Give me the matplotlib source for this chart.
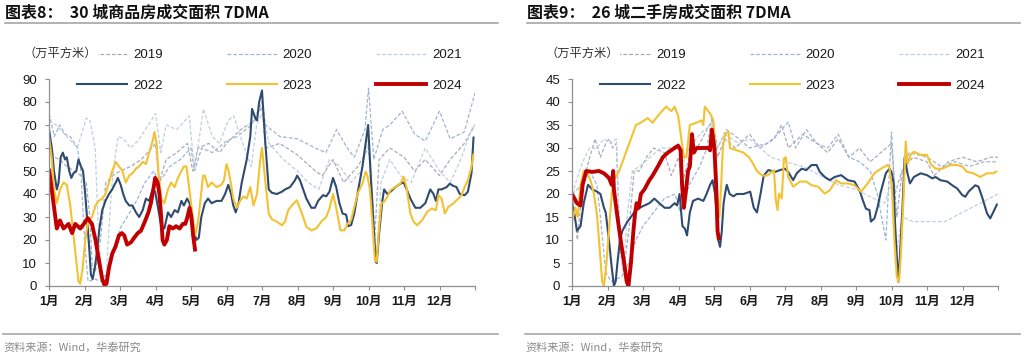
import matplotlib
matplotlib.use("Agg")
import matplotlib.pyplot as plt
from matplotlib.lines import Line2D

plt.rcParams['font.family'] = ['Liberation Sans', 'Noto Sans CJK SC', 'DejaVu Sans']

# ---------------- data (x = month position, 0 = 1 Jan, 12 = 31 Dec) ----------------
months = ['1月', '2月', '3月', '4月', '5月', '6月', '7月', '8月', '9月', '10月', '11月', '12月']
years = ['2019', '2020', '2021', '2022', '2023', '2024']

# Chart 8: 30 cities new home sales area 7DMA (万平方米)
L2019 = [(0,60),(0.15,56),(0.3,55),(0.5,52),(0.7,50),(0.9,48),(1.05,45),(1.15,30),(1.22,8),(1.3,6),(1.45,20),(1.6,45),(1.8,48),(2.0,50),(2.3,52),(2.6,55),(2.9,60),(3.0,62),(3.1,45),(3.3,55),(3.6,58),(3.9,62),(4.05,50),(4.2,60),(4.5,62),(4.8,58),(5.0,62),(5.4,68),(5.8,72),(6.0,78),(6.1,60),(6.5,62),(7.0,57),(7.5,50),(7.7,48),(8.0,55),(8.3,45),(8.7,52),(9.0,60),(9.1,40),(9.17,20),(9.3,55),(9.6,60),(10.0,56),(10.3,50),(10.6,55),(11.0,48),(11.3,55),(11.7,62),(12.0,70)]
L2020 = [(0,75),(0.15,65),(0.3,70),(0.45,66),(0.6,65),(0.8,60),(0.9,50),(1.0,20),(1.1,2),(1.3,3),(1.45,2),(1.6,5),(1.75,10),(2.0,25),(2.2,30),(2.5,38),(2.7,45),(2.95,50),(3.1,45),(3.4,52),(3.7,55),(4.0,60),(4.1,50),(4.3,60),(4.6,58),(5.0,63),(5.3,65),(5.7,70),(6.0,80),(6.1,70),(6.5,65),(7.0,64),(7.5,60),(7.8,58),(8.1,68),(8.4,60),(8.6,56),(8.9,68),(9.0,86),(9.15,55),(9.4,68),(9.6,70),(9.95,76),(10.3,66),(10.6,63),(11.0,76),(11.3,64),(11.7,67),(12.0,84)]
L2021 = [(0,72),(0.2,70),(0.5,65),(0.8,60),(1.05,73),(1.15,72),(1.3,60),(1.4,20),(1.5,3),(1.6,2),(1.75,40),(1.85,55),(1.95,65),(2.1,64),(2.3,60),(2.5,63),(2.8,70),(3.0,75),(3.15,58),(3.3,70),(3.6,68),(3.95,74),(4.1,50),(4.35,77),(4.6,65),(4.8,62),(5.05,72),(5.2,74),(5.5,60),(5.7,52),(5.85,70),(6.0,75),(6.2,62),(6.6,55),(7.0,50),(7.3,45),(7.6,42),(7.9,55),(8.2,52),(8.5,45),(8.8,50),(9.0,64),(9.15,30),(9.22,10),(9.35,45),(9.6,55),(9.9,48),(10.2,45),(10.6,60),(11.0,50),(11.3,45),(11.6,55),(11.9,68),(12.0,70)]
L2022 = [(0,68),(0.08,60),(0.14,50),(0.22,42),(0.27,45),(0.33,56),(0.39,58),(0.45,55),(0.5,56),(0.57,50),(0.63,47),(0.69,49),(0.77,50),(0.83,55),(0.9,52),(0.96,50),(1.02,40),(1.07,30),(1.14,15),(1.18,5),(1.23,3),(1.29,8),(1.36,16),(1.42,25),(1.5,33),(1.59,37),(1.69,40),(1.78,42),(1.88,45),(1.94,47),(2.02,44),(2.09,40),(2.16,37),(2.26,35),(2.35,35),(2.45,32),(2.54,30),(2.64,33),(2.73,38),(2.82,37),(2.92,42),(2.99,41),(3.06,35),(3.16,26),(3.25,25),(3.35,32),(3.44,30),(3.54,33),(3.63,32),(3.73,37),(3.8,35),(3.89,38),(3.96,36),(4.06,25),(4.15,20),(4.22,21),(4.29,30),(4.39,36),(4.48,38),(4.58,36),(4.72,37),(4.86,37),(4.96,40),(5.05,44),(5.13,40),(5.19,35),(5.26,32),(5.34,36),(5.43,45),(5.57,55),(5.67,65),(5.72,77),(5.81,73),(5.86,72),(5.92,80),(6.0,85),(6.09,63),(6.19,42),(6.28,40.5),(6.42,40),(6.56,41),(6.65,42),(6.79,43),(6.93,46),(6.99,48),(7.07,46),(7.16,42),(7.25,38),(7.39,34),(7.49,34),(7.58,37),(7.72,39.5),(7.81,39),(7.9,41),(8.0,47),(8.09,43),(8.18,36),(8.27,31.5),(8.37,31),(8.43,26),(8.51,26.5),(8.6,31.5),(8.69,40),(8.83,52),(8.92,62),(8.99,70),(9.06,49),(9.14,27),(9.2,11),(9.23,10),(9.3,23),(9.39,37),(9.44,42),(9.53,40),(9.62,41),(9.76,43),(9.9,44.5),(9.99,45),(10.09,41.5),(10.18,38),(10.32,34),(10.46,34),(10.6,36),(10.74,42),(10.83,40),(10.9,37),(10.97,42),(11.06,42),(11.2,43),(11.29,44.5),(11.39,43.5),(11.48,43),(11.57,40),(11.71,39.5),(11.8,41),(11.9,49),(11.96,65)]
L2023 = [(0,65),(0.08,55),(0.14,42),(0.22,36),(0.31,42),(0.41,45),(0.5,44),(0.6,35),(0.69,22),(0.77,10),(0.83,2),(0.88,1),(0.95,8),(1.02,20),(1.1,28),(1.21,30),(1.31,35),(1.4,37),(1.5,38),(1.59,40),(1.69,45),(1.78,50),(1.88,54),(1.97,52),(2.07,50),(2.16,45),(2.26,48),(2.35,49),(2.45,51),(2.54,52),(2.64,54),(2.73,53),(2.82,58),(2.92,63),(2.97,67),(3.03,62),(3.08,50),(3.16,38),(3.25,36),(3.35,42),(3.44,45),(3.54,43),(3.63,47),(3.73,50),(3.8,52),(3.87,52),(3.93,45),(4.01,35),(4.09,25),(4.12,22),(4.2,28),(4.27,38),(4.34,48),(4.39,48),(4.48,43),(4.58,45),(4.72,43),(4.86,44),(4.93,46),(5.0,53),(5.06,50),(5.12,45),(5.19,38),(5.29,34),(5.38,37),(5.48,39),(5.57,38),(5.67,43),(5.76,35),(5.86,40),(5.95,55),(6.0,60),(6.09,46),(6.19,31.5),(6.28,29),(6.42,28),(6.56,26.4),(6.65,28),(6.74,33),(6.84,35),(6.98,37.3),(7.07,33.7),(7.16,30),(7.25,25.7),(7.39,24.2),(7.53,25),(7.67,28),(7.81,30),(7.9,33.7),(8.0,40),(8.09,34),(8.21,24.2),(8.32,24.2),(8.41,27),(8.51,28.6),(8.6,34.4),(8.69,40),(8.83,44.6),(8.92,49.7),(8.97,48),(9.04,41.7),(9.11,27),(9.18,11.2),(9.23,10.5),(9.3,25.7),(9.36,35.9),(9.44,36.6),(9.53,38.8),(9.62,41.7),(9.76,43.1),(9.9,44.6),(9.99,47.5),(10.07,43),(10.18,31.5),(10.27,28),(10.37,26.4),(10.51,28.6),(10.65,32.2),(10.78,33.7),(10.9,33),(10.97,39.5),(11.06,38),(11.15,31.5),(11.25,34.4),(11.39,35.9),(11.53,38),(11.62,39.5),(11.71,43.1),(11.8,46),(11.9,51.8),(11.96,57.6)]
L2024 = [(0,51),(0.22,25),(0.31,28.5),(0.41,25),(0.55,27),(0.65,23),(0.74,27),(0.88,25),(0.98,27),(1.09,29.5),(1.21,27),(1.31,20),(1.42,10),(1.5,3),(1.56,0.5),(1.62,1),(1.69,8),(1.78,14),(1.87,17),(1.97,22),(2.05,23),(2.12,22),(2.2,18),(2.31,19),(2.4,21),(2.5,23),(2.59,24),(2.7,28),(2.8,32),(2.87,36),(2.94,42),(2.99,47),(3.06,45),(3.11,40),(3.16,30),(3.2,20),(3.25,18),(3.32,20),(3.39,26),(3.49,25),(3.58,26),(3.68,25),(3.77,27),(3.84,27),(3.9,30),(3.96,34),(4.01,30),(4.06,22),(4.12,15)]

# Chart 9: 26 cities second-hand home sales area 7DMA (万平方米)
R2019 = [(0,21),(0.15,10),(0.3,22),(0.5,28),(0.65,32),(0.8,28),(0.95,31),(1.05,32),(1.15,30),(1.25,31),(1.3,20),(1.35,8),(1.45,3),(1.6,12),(1.75,25),(1.9,25),(2.1,28),(2.3,30),(2.6,29),(2.8,24),(3.0,28),(3.1,22),(3.3,28),(3.6,31),(3.8,34),(3.95,36),(4.1,28),(4.3,32),(4.6,30),(5.0,33),(5.3,30),(5.7,32),(5.9,35),(6.1,30),(6.5,33),(6.9,31),(7.2,29),(7.5,32),(7.8,28),(8.1,30),(8.4,27),(8.7,29),(9.0,31),(9.15,15),(9.3,25),(9.6,28),(10.0,27),(10.2,24),(10.6,27),(11.0,28),(11.4,27),(11.8,28),(12.0,28)]
R2020 = [(0,20),(0.3,22),(0.5,25),(0.7,22),(0.8,15),(0.95,3),(1.1,1),(1.4,2),(1.6,5),(1.8,10),(2.0,13),(2.3,16),(2.6,19),(2.9,20),(3.05,16),(3.3,22),(3.6,26),(3.8,30),(3.95,37),(4.1,30),(4.35,34),(4.7,32),(5.0,30),(5.5,31),(5.8,33),(6.09,35.7),(6.3,30),(6.6,34),(6.9,31),(7.2,30),(7.5,33),(7.8,28),(8.1,27),(8.4,25),(8.6,20),(8.84,10),(9.0,33.5),(9.1,20),(9.25,24),(9.5,29),(10.0,28),(10.4,26),(10.8,27),(11.2,26),(11.6,27),(12.0,27)]
R2021 = [(0,20),(0.3,27),(0.5,30),(0.7,30),(0.9,32),(1.1,31),(1.25,32),(1.35,10),(1.45,3),(1.55,15),(1.7,25),(1.9,26),(2.2,28),(2.5,30),(2.8,30),(3.0,31),(3.1,26),(3.3,30),(3.6,33),(3.9,35),(4.1,30),(4.3,33),(4.7,31),(5.0,32),(5.3,30),(5.6,28),(6.0,27),(6.5,26),(7.0,24),(7.5,22),(8.0,21),(8.5,19),(8.8,18),(9.0,22),(9.15,8),(9.3,15),(9.6,14),(10.0,14),(10.5,14),(11.0,16),(11.5,18),(12.0,20)]
R2022 = [(0,18),(0.08,15),(0.14,12),(0.24,13),(0.33,18),(0.45,22),(0.57,21),(0.71,20.5),(0.8,20),(0.9,17),(0.95,16),(1.04,10),(1.12,4),(1.18,0),(1.23,1),(1.28,5),(1.35,10),(1.42,12),(1.56,14),(1.66,15),(1.75,16),(1.9,17),(2.04,17.5),(2.18,18),(2.32,19),(2.46,18),(2.61,17),(2.75,17),(2.89,18),(2.96,17.5),(3.03,20),(3.11,13),(3.18,12.5),(3.24,11),(3.32,16),(3.41,18.5),(3.55,19),(3.7,18.5),(3.79,20),(3.89,22),(3.96,23),(4.03,20),(4.08,15),(4.12,10),(4.17,8.5),(4.22,12),(4.27,18),(4.31,20),(4.36,22),(4.44,20),(4.55,19.5),(4.64,20),(4.83,20),(5.02,20.5),(5.12,17),(5.21,16),(5.31,20),(5.4,24),(5.53,25.2),(5.72,24.8),(5.86,25.2),(6.0,25.5),(6.09,24.8),(6.23,23),(6.33,24.5),(6.47,25.5),(6.6,25.2),(6.75,26.3),(6.89,26.3),(6.98,24.8),(7.12,23.7),(7.26,23),(7.4,23.7),(7.58,24.1),(7.77,23),(7.96,22.7),(8.1,20.8),(8.19,18.7),(8.28,16.8),(8.38,16.5),(8.42,14),(8.52,14.7),(8.61,17.2),(8.7,20.5),(8.84,24.5),(8.94,25.5),(9.0,24.8),(9.06,22.3),(9.1,13.6),(9.15,6.3),(9.2,0.9),(9.24,7),(9.31,17.2),(9.37,28),(9.45,24.5),(9.52,22.3),(9.63,23.7),(9.82,24.5),(10.0,24.1),(10.15,23.4),(10.24,23.7),(10.38,23),(10.57,22.7),(10.71,21.9),(10.85,21.2),(10.99,19.8),(11.08,19.4),(11.17,20.5),(11.36,21.9),(11.45,21.6),(11.55,19.4),(11.69,15.8),(11.78,14.7),(11.87,16.1),(11.98,17.9)]
R2023 = [(0,14),(0.09,17),(0.16,15),(0.24,22),(0.33,25),(0.43,24.5),(0.52,23),(0.62,20),(0.71,15),(0.78,8),(0.85,1),(0.9,0),(0.97,5),(1.04,12),(1.12,20),(1.18,23),(1.33,25),(1.47,28),(1.66,32),(1.8,35),(1.94,35.5),(2.13,36.5),(2.27,35.5),(2.42,37),(2.65,39),(2.8,38),(2.89,39),(2.99,37),(3.08,32),(3.15,28),(3.22,28),(3.32,35),(3.51,35.5),(3.65,36),(3.7,35),(3.74,39),(3.89,37.5),(3.98,36),(4.05,28),(4.09,20),(4.15,15),(4.19,20),(4.25,30),(4.31,33),(4.41,33.5),(4.45,30),(4.64,29.5),(4.83,29),(4.98,28),(5.07,27),(5.21,25),(5.36,24),(5.5,24),(5.69,25.2),(5.74,18.7),(5.79,16.5),(5.83,20.1),(5.91,19),(5.97,27.7),(6.02,28),(6.09,23.7),(6.23,21.6),(6.42,22.7),(6.6,22.7),(6.75,21.9),(6.93,21.6),(7.12,20.1),(7.26,20.8),(7.44,23),(7.58,22.3),(7.77,22.3),(7.96,21.9),(8.14,20.5),(8.33,22.3),(8.52,24.5),(8.7,25.5),(8.89,26.3),(8.94,25.8),(9.01,21.6),(9.08,10),(9.15,2),(9.21,0.9),(9.26,6.3),(9.34,19.4),(9.4,31.4),(9.45,26.6),(9.54,28.5),(9.63,29.2),(9.82,28.5),(10.0,28.5),(10.1,26.6),(10.24,25.5),(10.43,25.5),(10.66,26.3),(10.85,26.3),(10.99,26),(11.13,24.8),(11.31,24.5),(11.5,23.7),(11.69,24.5),(11.87,24.5),(11.98,25)]
R2024 = [(0,20),(0.14,18),(0.24,17.5),(0.3,22),(0.4,25),(0.57,24.8),(0.76,25),(0.9,24.5),(1.04,23.5),(1.12,22),(1.16,25),(1.18,21),(1.28,15),(1.37,10),(1.47,5),(1.54,1),(1.59,0),(1.66,5),(1.73,12),(1.78,16),(1.82,18),(1.88,17),(1.94,20),(2.04,21),(2.18,23),(2.27,24),(2.42,26),(2.56,28),(2.7,29),(2.89,30),(2.99,30.5),(3.06,29.5),(3.1,22),(3.15,17),(3.2,20),(3.27,25),(3.32,26),(3.38,33),(3.43,29),(3.51,30),(3.7,30),(3.84,30),(3.89,29.5),(3.94,34),(4.01,30),(4.06,22),(4.1,12),(4.14,10)]

left_series = [L2019, L2020, L2021, L2022, L2023, L2024]
right_series = [R2019, R2020, R2021, R2022, R2023, R2024]

# ---------------- styles ----------------
styles = [
    dict(color='#a9abb8', lw=0.9, ls=(0, (3, 1.6))),
    dict(color='#9fb5d4', lw=0.9, ls=(0, (3, 1.6))),
    dict(color='#bfcfe0', lw=0.9, ls=(0, (3, 1.6))),
    dict(color='#2f4b70', lw=1.5, ls='-'),
    dict(color='#f2c232', lw=1.5, ls='-'),
    dict(color='#c00000', lw=2.8, ls='-'),
]

W, H = 1024, 355
fig = plt.figure(figsize=(W / 100, H / 100), dpi=100)

def fx(px):
    return px / W

def fy(py):
    return 1 - py / H

cjk = ['Noto Sans CJK SC', 'DejaVu Sans']
spine_col = '#8f8f8f'

def make_chart(x0, x1, series, ymax, ystep, title, legend_x, unit_x, panel_l, panel_r):
    ax = fig.add_axes([fx(x0), fy(286), fx(x1 - x0), (286 - 79) / H])
    for data, st in zip(series, styles):
        xs = [p[0] for p in data]
        ys = [p[1] for p in data]
        ax.plot(xs, ys, color=st['color'], lw=st['lw'], linestyle=st['ls'],
                solid_joinstyle='round', solid_capstyle='butt')
    ax.set_xlim(0, 12)
    ax.set_ylim(0, ymax)
    ax.set_yticks(range(0, ymax + 1, ystep))
    ax.set_xticks(range(0, 13))
    ax.set_xticklabels(months + [''], fontweight='bold', fontsize=9,
                       family=['Liberation Sans', 'Noto Sans CJK SC'])
    for s in ['top', 'right']:
        ax.spines[s].set_visible(False)
    for s in ['left', 'bottom']:
        ax.spines[s].set_color(spine_col)
        ax.spines[s].set_linewidth(0.9)
    ax.tick_params(axis='y', length=3, width=0.8, color=spine_col, pad=5.5,
                   labelsize=9.5, labelcolor='#1a1a1a')
    ax.tick_params(axis='x', length=3, width=0.8, color=spine_col, pad=4,
                   labelcolor='#1a1a1a')

    # legend (row 1: 2019-2021, row 2: 2022-2024)
    handles = [Line2D([], [], color=st['color'], lw=st['lw'], linestyle=st['ls'])
               for st in styles]
    order = [0, 3, 1, 4, 2, 5]
    leg = fig.legend([handles[i] for i in order], [years[i] for i in order],
                     ncol=3, loc='upper left',
                     bbox_to_anchor=(fx(legend_x), fy(49)), bbox_transform=fig.transFigure,
                     frameon=False, fontsize=9.5, handlelength=3.8, handletextpad=0.45,
                     columnspacing=4.85, labelspacing=1.4, borderpad=0, borderaxespad=0)
    for t in leg.get_texts():
        t.set_color('#1a1a1a')
    fig.text(fx(unit_x), fy(53), '（万平方米）', family=cjk, fontsize=8.8, color='#333333',
             va='center', ha='left', zorder=10,
             bbox=dict(facecolor='white', edgecolor='none', pad=0.5))

    # title, rules, source
    fig.text(fx(panel_l), fy(12.5), title, family=cjk, fontsize=11.5, fontweight='bold',
             color='#111111', va='center', ha='left')
    fig.add_artist(Line2D([fx(panel_l), fx(panel_r)], [fy(23), fy(23)],
                          transform=fig.transFigure, color='#a6a6a6', lw=1.2))
    fig.add_artist(Line2D([fx(panel_l - 2), fx(panel_r)], [fy(334), fy(334)],
                          transform=fig.transFigure, color='#a6a6a6', lw=1.2))
    fig.text(fx(panel_l - 2), fy(347), '资料来源：Wind，华泰研究', family=cjk, fontsize=8,
             color='#8a8a8a', va='center', ha='left')
    return ax

make_chart(49, 475, left_series, 90, 10, '图表8：  30 城商品房成交面积 7DMA',
           77, 24, 5, 498)
make_chart(572, 998, right_series, 45, 5, '图表9：  26 城二手房成交面积 7DMA',
           600, 546, 527, 1020)

fig.savefig('out.png', dpi=100, facecolor='white')
